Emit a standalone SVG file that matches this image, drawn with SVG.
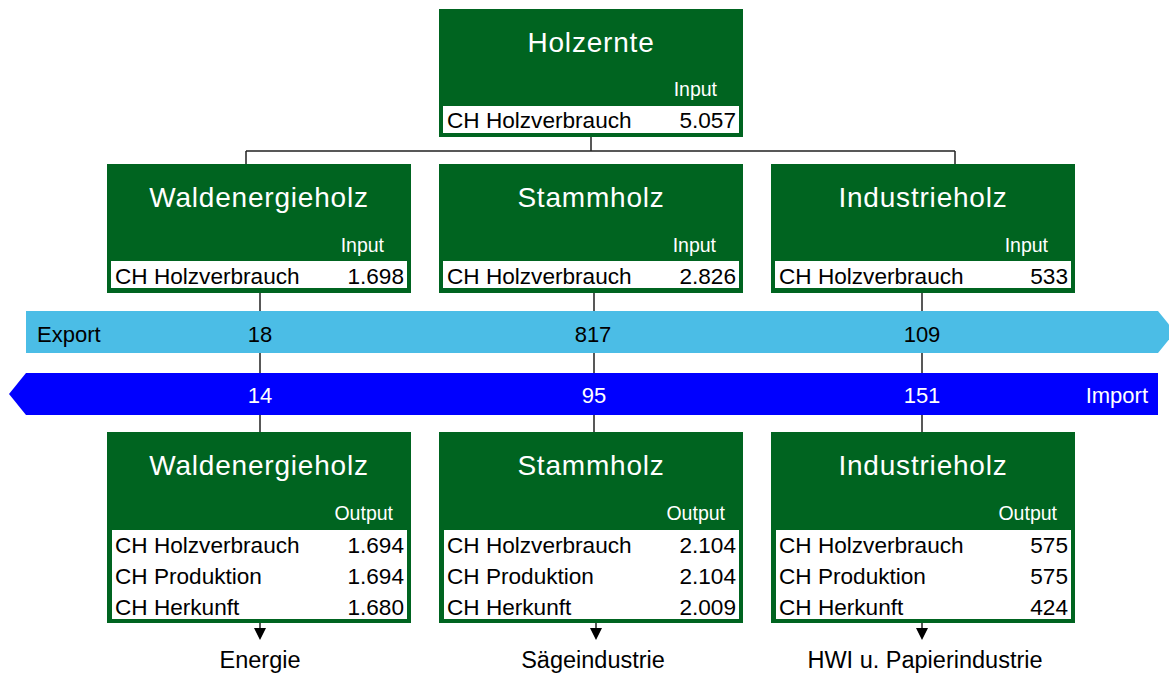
<svg xmlns="http://www.w3.org/2000/svg" width="1169" height="673" viewBox="0 0 1169 673">
  <style>
    text { font-family: "Liberation Sans", Arial, Helvetica, sans-serif; }
    .box { fill: #006420; }
    .row { fill: #ffffff; }
    .title { fill: #ffffff; font-size: 28px; letter-spacing: 0.8px; text-anchor: middle; }
    .head { fill: #ffffff; font-size: 19.5px; text-anchor: end; }
    .lbl { fill: #000000; font-size: 22.6px; }
    .val { fill: #000000; font-size: 22.6px; text-anchor: end; }
    .band { font-size: 22px; }
    .num { text-anchor: middle; }
    .dest { fill: #000000; font-size: 23.5px; text-anchor: middle; }
    .conn { stroke: #222222; stroke-width: 1.5; fill: none; }
  </style>
  <rect width="1169" height="673" fill="#ffffff"/>

  <!-- connectors -->
  <g id="connectors">
    <path class="conn" d="M591,137 V151 M246,151 H955 M246,151 V164 M955,151 V164"/>
    <path class="conn" d="M260,293 V432 M594,293 V432 M922,293 V432"/>
    <path class="conn" d="M260,623 V630 M596,623 V630 M922,623 V630"/>
    <path d="M254,628 H266 L260,640 Z M590,628 H602 L596,640 Z M916,628 H928 L922,640 Z" fill="#000000"/>
  </g>

  <!-- export / import bands -->
  <g id="export">
    <polygon points="26,311 1158,311 1175,332 1158,353 26,353" fill="#4BBDE6"/>
    <text class="band" x="37" y="342" fill="#000000">Export</text>
    <text class="band num" x="260" y="342" fill="#000000">18</text>
    <text class="band num" x="593" y="342" fill="#000000">817</text>
    <text class="band num" x="922" y="342" fill="#000000">109</text>
  </g>
  <g id="import">
    <polygon points="26,373 1158,373 1158,415 26,415 9,394" fill="#0000FF"/>
    <text class="band" x="1148" y="403" fill="#ffffff" text-anchor="end">Import</text>
    <text class="band num" x="260" y="403" fill="#ffffff">14</text>
    <text class="band num" x="594" y="403" fill="#ffffff">95</text>
    <text class="band num" x="922" y="403" fill="#ffffff">151</text>
  </g>

  <!-- harvest -->
  <g id="holzernte" transform="translate(439,9)">
    <rect class="box" width="304" height="128"/>
    <rect class="row" x="4" y="97" width="296" height="27"/>
    <text class="title" x="152" y="43">Holzernte</text>
    <text class="head" x="278" y="87">Input</text>
    <text class="lbl" x="8" y="119">CH Holzverbrauch</text>
    <text class="val" x="297" y="119">5.057</text>
  </g>

  <!-- input assortments -->
  <g id="in-waldenergieholz" transform="translate(107,164)">
    <rect class="box" width="304" height="129"/>
    <rect class="row" x="4" y="97" width="296" height="27"/>
    <text class="title" x="152" y="43">Waldenergieholz</text>
    <text class="head" x="277" y="88">Input</text>
    <text class="lbl" x="8" y="120">CH Holzverbrauch</text>
    <text class="val" x="297" y="120">1.698</text>
  </g>
  <g id="in-stammholz" transform="translate(439,164)">
    <rect class="box" width="304" height="129"/>
    <rect class="row" x="4" y="97" width="296" height="27"/>
    <text class="title" x="152" y="43">Stammholz</text>
    <text class="head" x="277" y="88">Input</text>
    <text class="lbl" x="8" y="120">CH Holzverbrauch</text>
    <text class="val" x="297" y="120">2.826</text>
  </g>
  <g id="in-industrieholz" transform="translate(771,164)">
    <rect class="box" width="304" height="129"/>
    <rect class="row" x="4" y="97" width="296" height="27"/>
    <text class="title" x="152" y="43">Industrieholz</text>
    <text class="head" x="277" y="88">Input</text>
    <text class="lbl" x="8" y="120">CH Holzverbrauch</text>
    <text class="val" x="297" y="120">533</text>
  </g>

  <!-- output assortments -->
  <g id="out-waldenergieholz" transform="translate(107,432)">
    <rect class="box" width="304" height="191"/>
    <rect class="row" x="5" y="98" width="295" height="89"/>
    <text class="title" x="152" y="43">Waldenergieholz</text>
    <text class="head" x="286" y="88">Output</text>
    <text class="lbl" x="8" y="121">CH Holzverbrauch</text>
    <text class="val" x="297" y="121">1.694</text>
    <text class="lbl" x="8" y="152">CH Produktion</text>
    <text class="val" x="297" y="152">1.694</text>
    <text class="lbl" x="8" y="183">CH Herkunft</text>
    <text class="val" x="297" y="183">1.680</text>
  </g>
  <g id="out-stammholz" transform="translate(439,432)">
    <rect class="box" width="304" height="191"/>
    <rect class="row" x="5" y="98" width="295" height="89"/>
    <text class="title" x="152" y="43">Stammholz</text>
    <text class="head" x="286" y="88">Output</text>
    <text class="lbl" x="8" y="121">CH Holzverbrauch</text>
    <text class="val" x="297" y="121">2.104</text>
    <text class="lbl" x="8" y="152">CH Produktion</text>
    <text class="val" x="297" y="152">2.104</text>
    <text class="lbl" x="8" y="183">CH Herkunft</text>
    <text class="val" x="297" y="183">2.009</text>
  </g>
  <g id="out-industrieholz" transform="translate(771,432)">
    <rect class="box" width="304" height="191"/>
    <rect class="row" x="5" y="98" width="295" height="89"/>
    <text class="title" x="152" y="43">Industrieholz</text>
    <text class="head" x="286" y="88">Output</text>
    <text class="lbl" x="8" y="121">CH Holzverbrauch</text>
    <text class="val" x="297" y="121">575</text>
    <text class="lbl" x="8" y="152">CH Produktion</text>
    <text class="val" x="297" y="152">575</text>
    <text class="lbl" x="8" y="183">CH Herkunft</text>
    <text class="val" x="297" y="183">424</text>
  </g>

  <!-- destinations -->
  <g id="dest-energie"><text class="dest" x="260" y="668">Energie</text></g>
  <g id="dest-saege"><text class="dest" x="593" y="668">Sägeindustrie</text></g>
  <g id="dest-hwi"><text class="dest" x="925" y="668">HWI u. Papierindustrie</text></g>
</svg>
